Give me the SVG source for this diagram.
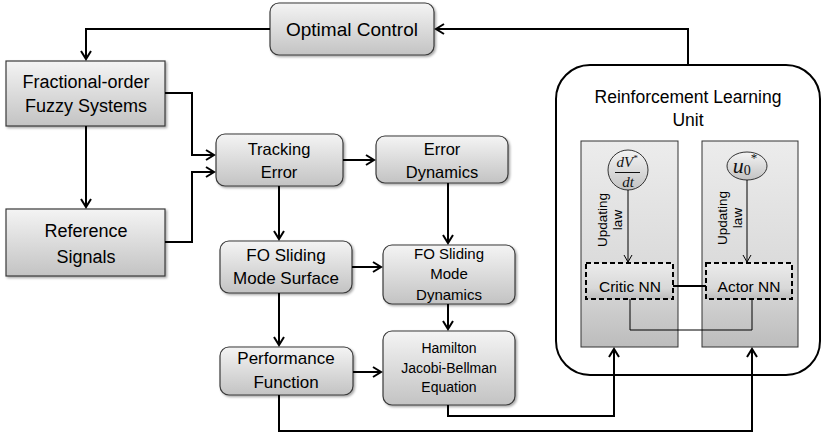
<svg xmlns="http://www.w3.org/2000/svg" width="821" height="433" viewBox="0 0 821 433">
<defs>
<linearGradient id="g" x1="0" y1="0" x2="0" y2="1">
<stop offset="0" stop-color="#f4f4f4"/>
<stop offset="1" stop-color="#c3c3c3"/>
</linearGradient>
<linearGradient id="gp" x1="0" y1="0" x2="0" y2="1">
<stop offset="0" stop-color="#ececec"/>
<stop offset="0.7" stop-color="#d8d8d8"/>
<stop offset="1" stop-color="#bcbcbc"/>
</linearGradient>
<filter id="sh" x="-10%" y="-10%" width="125%" height="130%">
<feDropShadow dx="1.5" dy="1.5" stdDeviation="1" flood-color="#000" flood-opacity="0.35"/>
</filter>
<marker id="a" markerUnits="userSpaceOnUse" markerWidth="12" markerHeight="12" refX="9" refY="6" orient="auto">
<path d="M1,1 L9,6 L1,11" fill="none" stroke="#000" stroke-width="2"/>
</marker>
<marker id="at" markerUnits="userSpaceOnUse" markerWidth="12" markerHeight="12" refX="9" refY="6" orient="auto">
<path d="M2,2 L9,6 L2,10" fill="none" stroke="#000" stroke-width="1"/>
</marker>
<style>
.box{fill:url(#g);stroke:#3a3a3a;stroke-width:1.2;filter:url(#sh)}
.t{font-family:"Liberation Sans",Arial,sans-serif;fill:#000;text-anchor:middle}
.f19{font-size:19px}.f18{font-size:18px}.f175{font-size:17.5px}.f17{font-size:17px}
.f165{font-size:16.5px}.f155{font-size:15.5px}.f15{font-size:15px}.f14{font-size:14px}.f135{font-size:13.5px}
.c{fill:none;stroke:#000;stroke-width:2}
.ct{fill:none;stroke:#000;stroke-width:1}
.panel{fill:url(#gp);stroke:#333;stroke-width:1}
.nn{fill:url(#gp);stroke:#000;stroke-width:2;stroke-dasharray:5 3}
.m{font-family:"Liberation Serif","Times New Roman",serif;font-style:italic;fill:#111;text-anchor:middle}
</style>
</defs>

<g id="rl-unit">
<rect x="556" y="65" width="264" height="310" rx="34" fill="#fff" stroke="#000" stroke-width="2"/>
<text class="t f175" x="688" y="103">Reinforcement Learning</text>
<text class="t f175" x="688" y="126">Unit</text>
</g>

<g id="critic-panel">
<rect class="panel" x="581" y="141" width="97" height="206"/>
<text class="t f135" transform="translate(607,220) rotate(-90)">Updating</text>
<text class="t f135" transform="translate(622,220) rotate(-90)">law</text>
</g>
<g id="actor-panel">
<rect class="panel" x="702" y="141" width="96" height="206"/>
<text class="t f135" transform="translate(727,218) rotate(-90)">Updating</text>
<text class="t f135" transform="translate(742,218) rotate(-90)">law</text>
</g>

<g id="dvdt">
<ellipse cx="628" cy="170" rx="20" ry="20" fill="url(#g)" stroke="#333" stroke-width="1"/>
<text class="m" x="627" y="167" font-size="15">dV<tspan font-size="9" dy="-6">*</tspan></text>
<line x1="615" y1="172.5" x2="640" y2="172.5" stroke="#111" stroke-width="1"/>
<text class="m" x="628" y="187" font-size="15">dt</text>
</g>
<g id="u0">
<ellipse cx="747" cy="166" rx="20" ry="14" fill="url(#g)" stroke="#333" stroke-width="1"/>
<text class="m" x="745" y="173" font-size="22">u<tspan font-size="14" dy="2" font-style="normal">0</tspan><tspan font-size="13" dy="-13" font-style="normal">*</tspan></text>
</g>

<g id="critic-nn">
<rect class="nn" x="586" y="263" width="87" height="36"/>
<text class="t f155" x="630" y="292">Critic NN</text>
</g>
<g id="actor-nn">
<rect class="nn" x="706" y="263" width="86" height="36"/>
<text class="t f155" x="749" y="292">Actor NN</text>
</g>

<g id="optimal-control">
<rect class="box" x="270" y="3" width="164" height="52" rx="9"/>
<text class="t f19" x="352" y="36">Optimal Control</text>
</g>
<g id="fo-fuzzy">
<rect class="box" x="6" y="61" width="159" height="65"/>
<text class="t f18" x="86" y="88">Fractional-order</text>
<text class="t f18" x="86" y="112">Fuzzy Systems</text>
</g>
<g id="reference-signals">
<rect class="box" x="6" y="209" width="159" height="67"/>
<text class="t f18" x="86" y="237">Reference</text>
<text class="t f18" x="86" y="263">Signals</text>
</g>
<g id="tracking-error">
<rect class="box" x="216" y="134" width="127" height="52" rx="9"/>
<text class="t f165" x="279" y="155">Tracking</text>
<text class="t f165" x="279" y="178">Error</text>
</g>
<g id="error-dynamics">
<rect class="box" x="376" y="136" width="132" height="47" rx="9"/>
<text class="t f165" x="442" y="155">Error</text>
<text class="t f165" x="442" y="178">Dynamics</text>
</g>
<g id="fo-sms">
<rect class="box" x="220" y="241" width="132" height="52" rx="9"/>
<text class="t f17" x="286" y="261">FO Sliding</text>
<text class="t f17" x="286" y="284">Mode Surface</text>
</g>
<g id="fo-smd">
<rect class="box" x="383" y="245" width="132" height="59" rx="9"/>
<text class="t f15" x="449" y="259">FO Sliding</text>
<text class="t f15" x="449" y="279">Mode</text>
<text class="t f15" x="449" y="300">Dynamics</text>
</g>
<g id="performance">
<rect class="box" x="220" y="347" width="133" height="48" rx="9"/>
<text class="t f17" x="286" y="364">Performance</text>
<text class="t f17" x="286" y="388">Function</text>
</g>
<g id="hjb">
<rect class="box" x="383" y="331" width="132" height="74" rx="9"/>
<text class="t f14" x="449" y="353">Hamilton</text>
<text class="t f14" x="449" y="373">Jacobi-Bellman</text>
<text class="t f14" x="449" y="392">Equation</text>
</g>

<g id="connectors">
<path class="c" d="M688,65 V29 H436" marker-end="url(#a)"/>
<path class="c" d="M270,29 H86 V59" marker-end="url(#a)"/>
<path class="c" d="M86,126 V207" marker-end="url(#a)"/>
<path class="c" d="M165,93 H192 V155 H214" marker-end="url(#a)"/>
<path class="c" d="M165,242 H192 V172 H214" marker-end="url(#a)"/>
<path class="c" d="M343,160 H374" marker-end="url(#a)"/>
<path class="c" d="M279,186 V239" marker-end="url(#a)"/>
<path class="c" d="M448,183 V243" marker-end="url(#a)"/>
<path class="c" d="M352,267 H381" marker-end="url(#a)"/>
<path class="c" d="M279,293 V345" marker-end="url(#a)"/>
<path class="c" d="M448,304 V329" marker-end="url(#a)"/>
<path class="c" d="M353,372 H381" marker-end="url(#a)"/>
<path class="c" d="M448,405 V416 H614 V349" marker-end="url(#a)"/>
<path class="c" d="M279,395 V431 H752 V349" marker-end="url(#a)"/>
<path class="ct" d="M628,190 V262" marker-end="url(#at)"/>
<path class="ct" d="M747,180 V262" marker-end="url(#at)"/>
<path class="c" d="M673,286 H706"/>
<path class="ct" d="M630,299 V330 H752 V299"/>
</g>
</svg>
